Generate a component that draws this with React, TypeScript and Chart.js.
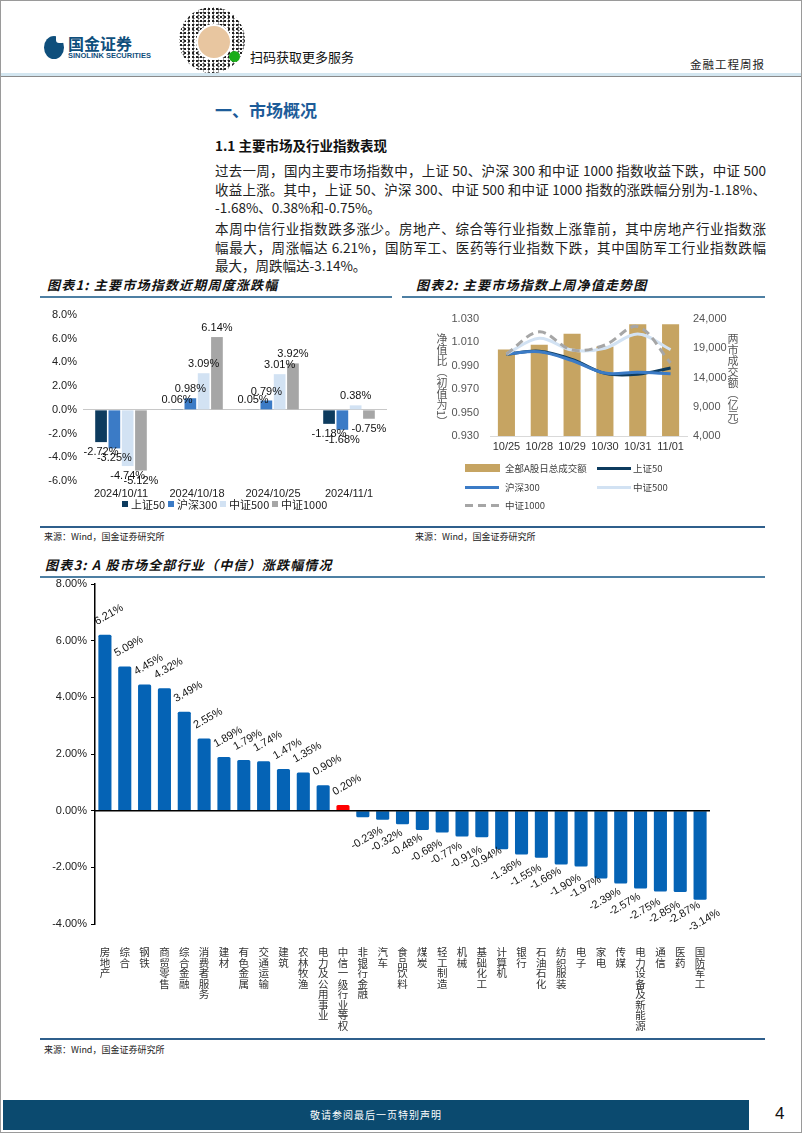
import React, { useEffect, useRef } from "react";
import { Chart, registerables } from "chart.js";

Chart.register(...registerables);

const FONT_CJK = "'Noto Sans CJK SC', 'Noto Sans', sans-serif";
const FONT_NUM = "Arial, 'Liberation Sans', 'Noto Sans CJK SC', sans-serif";
Chart.defaults.font.family = FONT_NUM;

// ---------- Chart 1: weekly returns of major indices ----------
const weekLabels = ["2024/10/11", "2024/10/18", "2024/10/25", "2024/11/1"];
const sz50Weekly = [-2.72, 0.06, 0.05, -1.18];
const hs300Weekly = [-3.25, 0.98, 0.79, -1.68];
const zz500Weekly = [-4.74, 3.09, 3.01, 0.38];
const zz1000Weekly = [-5.12, 6.14, 3.92, -0.75];
const weeklyAxis = { min: -6, max: 8, step: 2 };

// ---------- Chart 2: daily NAV and turnover ----------
const dayLabels = ["10/25", "10/28", "10/29", "10/30", "10/31", "11/01"];
const turnover = [18800, 19600, 21500, 19300, 23100, 23100];
const sz50Nav = [1.0, 1.0025, 0.9955, 0.9835, 0.9828, 0.9882];
const hs300Nav = [1.0, 1.002, 0.9945, 0.9838, 0.9845, 0.9832];
const zz500Nav = [1.0, 1.0135, 1.0035, 1.005, 1.0172, 1.0038];
const zz1000Nav = [1.0, 1.019, 1.0035, 1.0078, 1.0235, 0.9925];
const navAxis = { min: 0.93, max: 1.03, step: 0.02 };
const turnoverAxis = { min: 4000, max: 24000, step: 5000 };

// ---------- Chart 3: CITIC industries weekly returns ----------
const industries = [
  "房地产", "综合", "钢铁", "商贸零售", "综合金融", "消费者服务", "建材", "有色金属",
  "交通运输", "建筑", "农林牧渔", "电力及公用事业", "中信一级行业等权", "非银行金融", "汽车",
  "食品饮料", "煤炭", "轻工制造", "机械", "基础化工", "计算机", "银行", "石油石化",
  "纺织服装", "电子", "家电", "传媒", "电力设备及新能源", "通信", "医药", "国防军工",
];
const industryReturns = [
  6.21, 5.09, 4.45, 4.32, 3.49, 2.55, 1.89, 1.79, 1.74, 1.47, 1.35, 0.9, 0.2, -0.23, -0.32,
  -0.48, -0.68, -0.77, -0.91, -0.94, -1.36, -1.55, -1.66, -1.9, -1.97, -2.39, -2.57, -2.75,
  -2.85, -2.87, -3.14,
];
const benchmarkName = "中信一级行业等权";
const industryAxis = { min: -4, max: 8, step: 2 };

const COLORS = {
  sz50: "#0d3b5e",
  hs300: "#3b7bc6",
  zz500: "#d2e2f3",
  zz1000: "#a6a6a6",
  gold: "#c6a462",
  bar3: "#0563b5",
  bench: "#ff0000",
};

const weeklySeries = [
  { name: "上证50", data: sz50Weekly, color: COLORS.sz50 },
  { name: "沪深300", data: hs300Weekly, color: COLORS.hs300 },
  { name: "中证500", data: zz500Weekly, color: COLORS.zz500 },
  { name: "中证1000", data: zz1000Weekly, color: COLORS.zz1000 },
];

function WeeklyChart() {
  const ref = useRef<HTMLCanvasElement>(null);
  useEffect(() => {
    const labelPlugin = {
      id: "weeklyLabels",
      afterDatasetsDraw(chart: any) {
        const ctx = chart.ctx;
        ctx.save();
        ctx.font = `11px ${FONT_NUM}`;
        ctx.fillStyle = "#111";
        ctx.textAlign = "center";
        ctx.textBaseline = "middle";
        chart.data.datasets.forEach((ds: any, di: number) => {
          const meta = chart.getDatasetMeta(di);
          meta.data.forEach((el: any, i: number) => {
            const v = ds.data[i] as number;
            const y = v >= 0 ? el.y - 9 : el.y + 10;
            ctx.fillText(v.toFixed(2) + "%", el.x, y);
          });
        });
        ctx.restore();
      },
    };
    const chart = new Chart(ref.current!, {
      type: "bar",
      data: {
        labels: weekLabels,
        datasets: weeklySeries.map((s) => ({ label: s.name, data: s.data, backgroundColor: s.color })),
      },
      options: {
        animation: false,
        responsive: false,
        layout: { padding: { top: 15, right: 8 } },
        datasets: { bar: { categoryPercentage: 0.7, barPercentage: 0.88 } },
        plugins: { legend: { display: false }, tooltip: { enabled: false } },
        scales: {
          x: {
            grid: { display: false, drawTicks: false },
            border: { display: false },
            ticks: { color: "#222", font: { size: 11 }, padding: 6, maxRotation: 0, minRotation: 0, autoSkip: false },
            afterFit: (s: any) => {
              s.height = 20;
            },
          },
          y: {
            min: weeklyAxis.min,
            max: weeklyAxis.max,
            ticks: {
              stepSize: weeklyAxis.step,
              color: "#222",
              font: { size: 11 },
              padding: 6,
              callback: (v: any) => Number(v).toFixed(1) + "%",
            },
            grid: {
              drawTicks: false,
              color: (c: any) => (c.tick && c.tick.value === 0 ? "#c8c8c8" : "transparent"),
            },
            border: { display: false },
            afterFit: (s: any) => {
              s.width = 43;
            },
          },
        },
      } as any,
      plugins: [labelPlugin],
    });
    return () => chart.destroy();
  }, []);
  return (
    <canvas
      ref={ref}
      width={355}
      height={201}
      style={{ position: "absolute", left: 40, top: 300, width: 355, height: 201 }}
    />
  );
}

function Legend1() {
  const starts = [122, 168, 220, 272];
  return (
    <>
      {weeklySeries.map((s, i) => (
        <React.Fragment key={s.name}>
          <div style={{ position: "absolute", left: starts[i], top: 501, width: 6, height: 6, background: s.color }} />
          <div
            style={{
              position: "absolute",
              left: starts[i] + 9,
              top: 497,
              fontSize: 11,
              lineHeight: "14px",
              color: "#222",
              whiteSpace: "nowrap",
            }}
          >
            {s.name}
          </div>
        </React.Fragment>
      ))}
    </>
  );
}

function NavChart() {
  const ref = useRef<HTMLCanvasElement>(null);
  useEffect(() => {
    const lineBase = { type: "line", pointRadius: 0, borderWidth: 3, tension: 0.35, yAxisID: "y", fill: false };
    const chart = new Chart(ref.current!, {
      type: "bar",
      data: {
        labels: dayLabels,
        datasets: [
          {
            type: "bar",
            label: "全部A股日总成交额",
            data: turnover,
            backgroundColor: COLORS.gold,
            yAxisID: "y1",
            order: 5,
            barPercentage: 0.52,
            categoryPercentage: 1,
          },
          { ...lineBase, label: "上证50", data: sz50Nav, borderColor: COLORS.sz50, order: 4 },
          { ...lineBase, label: "沪深300", data: hs300Nav, borderColor: COLORS.hs300, order: 3 },
          { ...lineBase, label: "中证500", data: zz500Nav, borderColor: COLORS.zz500, order: 2 },
          {
            ...lineBase,
            label: "中证1000",
            data: zz1000Nav,
            borderColor: COLORS.zz1000,
            borderDash: [8, 5],
            order: 1,
          },
        ] as any,
      },
      options: {
        animation: false,
        responsive: false,
        layout: { padding: { top: 19 } },
        plugins: { legend: { display: false }, tooltip: { enabled: false } },
        scales: {
          x: {
            grid: { display: false, drawTicks: false },
            border: { display: true, color: "#d9d9d9" },
            ticks: { color: "#333", font: { size: 11 }, padding: 4, maxRotation: 0, minRotation: 0, autoSkip: false },
            afterFit: (s: any) => {
              s.height = 24;
            },
          },
          y: {
            position: "left",
            min: navAxis.min,
            max: navAxis.max,
            ticks: {
              stepSize: navAxis.step,
              color: "#555",
              font: { size: 11 },
              padding: 11,
              callback: (v: any) => Number(v).toFixed(3),
            },
            grid: { display: false, drawTicks: false },
            border: { display: false },
            afterFit: (s: any) => {
              s.width = 90;
            },
          },
          y1: {
            position: "right",
            min: turnoverAxis.min,
            max: turnoverAxis.max,
            ticks: {
              stepSize: turnoverAxis.step,
              color: "#555",
              font: { size: 11 },
              padding: 6,
              callback: (v: any) => Number(v).toLocaleString("en-US"),
            },
            grid: { display: false, drawTicks: false },
            border: { display: false },
            afterFit: (s: any) => {
              s.width = 78;
            },
          },
        },
      } as any,
    });
    return () => chart.destroy();
  }, []);
  return (
    <canvas
      ref={ref}
      width={365}
      height={160}
      style={{ position: "absolute", left: 400, top: 300, width: 365, height: 160 }}
    />
  );
}

function IndustryChart() {
  const ref = useRef<HTMLCanvasElement>(null);
  useEffect(() => {
    const labelPlugin = {
      id: "industryLabels",
      afterDatasetsDraw(chart: any) {
        const ctx = chart.ctx;
        const yScale = chart.scales.y;
        const area = chart.chartArea;
        ctx.save();
        const y0 = yScale.getPixelForValue(0);
        ctx.strokeStyle = "#000";
        ctx.lineWidth = 1.5;
        ctx.beginPath();
        ctx.moveTo(area.left, y0);
        ctx.lineTo(area.right, y0);
        ctx.stroke();
        ctx.font = `11px ${FONT_NUM}`;
        ctx.fillStyle = "#111";
        ctx.textAlign = "center";
        ctx.textBaseline = "middle";
        const meta = chart.getDatasetMeta(0);
        meta.data.forEach((el: any, i: number) => {
          const v = industryReturns[i];
          const ty = v >= 0 ? el.y - 20 : el.y + 21;
          ctx.save();
          ctx.translate(el.x + 4, ty);
          ctx.rotate((-30 * Math.PI) / 180);
          ctx.fillText(v.toFixed(2) + "%", 0, 0);
          ctx.restore();
        });
        ctx.restore();
      },
    };
    const chart = new Chart(ref.current!, {
      type: "bar",
      data: {
        labels: industries.map((s) => s.split("")),
        datasets: [
          {
            data: industryReturns,
            backgroundColor: industries.map((n) => (n === benchmarkName ? COLORS.bench : COLORS.bar3)),
            borderRadius: 1.5,
            barPercentage: 0.66,
            categoryPercentage: 1,
          },
        ],
      },
      options: {
        animation: false,
        responsive: false,
        layout: { padding: { top: 12, right: 55 } },
        plugins: { legend: { display: false }, tooltip: { enabled: false } },
        scales: {
          x: {
            grid: { display: false, drawTicks: false },
            border: { display: false },
            ticks: {
              autoSkip: false,
              maxRotation: 0,
              minRotation: 0,
              color: "#333",
              font: { size: 10.5, family: FONT_CJK, lineHeight: 1.0 },
              padding: 23,
            },
            afterFit: (s: any) => {
              s.height = 114;
            },
          },
          y: {
            min: industryAxis.min,
            max: industryAxis.max,
            ticks: {
              stepSize: industryAxis.step,
              color: "#222",
              font: { size: 11 },
              padding: 4,
              callback: (v: any) => Number(v).toFixed(2) + "%",
            },
            grid: {
              color: "transparent",
              tickColor: "#000",
              tickLength: 4,
              drawTicks: true,
            },
            border: { display: true, color: "#000", width: 1.5 },
            afterFit: (s: any) => {
              s.width = 55;
            },
          },
        },
      } as any,
      plugins: [labelPlugin],
    });
    return () => chart.destroy();
  }, []);
  return (
    <canvas
      ref={ref}
      width={725}
      height={466}
      style={{ position: "absolute", left: 40, top: 572, width: 725, height: 466 }}
    />
  );
}

const abs = (left: number, top: number, extra: React.CSSProperties = {}): React.CSSProperties => ({
  position: "absolute",
  left,
  top,
  whiteSpace: "nowrap",
  ...extra,
});

const para1 = [
  "过去一周，国内主要市场指数中，上证 50、沪深 300 和中证 1000 指数收益下跌，中证 500",
  "收益上涨。其中，上证 50、沪深 300、中证 500 和中证 1000 指数的涨跌幅分别为-1.18%、",
  "-1.68%、0.38%和-0.75%。",
];
const para2 = [
  "本周中信行业指数跌多涨少。房地产、综合等行业指数上涨靠前，其中房地产行业指数涨",
  "幅最大，周涨幅达 6.21%，国防军工、医药等行业指数下跌，其中国防军工行业指数跌幅",
  "最大，周跌幅达-3.14%。",
];

function Para({ lines, top }: { lines: string[]; top: number }) {
  return (
    <>
      {lines.map((t, i) => {
        const last = i === lines.length - 1;
        return (
          <div
            key={i}
            style={{
              position: "absolute",
              left: 215,
              top: top + i * 18.5,
              width: 551,
              fontSize: 13.5,
              lineHeight: "18px",
              color: "#222",
              whiteSpace: "nowrap",
              textAlign: last ? "left" : "justify",
              textAlignLast: last ? "left" : "justify",
            } as React.CSSProperties}
          >
            {t}
          </div>
        );
      })}
    </>
  );
}

const titleStyle: React.CSSProperties = {
  fontSize: 13,
  fontWeight: 700,
  fontStyle: "italic",
  letterSpacing: 1.2,
  color: "#111",
  lineHeight: "16px",
};
const sourceStyle: React.CSSProperties = { fontSize: 9, color: "#222", lineHeight: "12px" };
const rule = (left: number, top: number, width: number, color: string, h = 1.5): React.CSSProperties => ({
  position: "absolute",
  left,
  top,
  width,
  height: h,
  background: color,
});

function Legend2() {
  const txt: React.CSSProperties = { fontSize: 9.5, color: "#404040", lineHeight: "14px" };
  const lineSw = (left: number, top: number, color: string): React.CSSProperties => ({
    position: "absolute",
    left,
    top,
    width: 34,
    height: 3,
    background: color,
  });
  return (
    <>
      <div style={{ position: "absolute", left: 465, top: 464, width: 35, height: 8, background: COLORS.gold }} />
      <div style={abs(505, 461, txt)}>全部A股日总成交额</div>
      <div style={lineSw(597, 467, COLORS.sz50)} />
      <div style={abs(633, 461, txt)}>上证50</div>
      <div style={lineSw(465, 486, COLORS.hs300)} />
      <div style={abs(505, 480, txt)}>沪深300</div>
      <div style={lineSw(597, 486, COLORS.zz500)} />
      <div style={abs(633, 480, txt)}>中证500</div>
      <div
        style={{
          position: "absolute",
          left: 465,
          top: 504,
          width: 34,
          height: 3,
          background: `repeating-linear-gradient(90deg, ${COLORS.zz1000} 0 8px, transparent 8px 13px)`,
        }}
      />
      <div style={abs(505, 498, txt)}>中证1000</div>
    </>
  );
}

export default function App() {
  const vText: React.CSSProperties = {
    position: "absolute",
    writingMode: "vertical-rl",
    textOrientation: "mixed",
    fontSize: 11,
    color: "#555",
    lineHeight: "12px",
    letterSpacing: 0,
  } as React.CSSProperties;
  return (
    <div
      style={{
        position: "absolute",
        left: 0,
        top: 0,
        width: 802,
        height: 1133,
        background: "#fff",
        overflow: "hidden",
        fontFamily: FONT_CJK,
      }}
    >
      {/* header */}
      <div
        style={{
          position: "absolute",
          left: 44,
          top: 36,
          width: 20,
          height: 23,
          borderRadius: "50%",
          background: "#0f4f7c",
        }}
      />
      <div style={{ position: "absolute", left: 56, top: 33, width: 9, height: 10, background: "#fff", borderRadius: 3 }} />
      <div style={abs(68, 34, { fontSize: 16, fontWeight: 700, color: "#0f4f7c", lineHeight: "19px" })}>
        国金证券
      </div>
      <div
        style={abs(68, 52, {
          fontSize: 7.5,
          fontWeight: 700,
          color: "#0f4f7c",
          lineHeight: "8px",
          fontFamily: FONT_NUM,
        })}
      >
        SINOLINK SECURITIES
      </div>
      <div
        style={{
          position: "absolute",
          left: 179,
          top: 7,
          width: 66,
          height: 66,
          borderRadius: "50%",
          background:
            "radial-gradient(circle, #222 1.1px, transparent 1.5px) 0 0 / 4px 4px, radial-gradient(circle, #444 0.8px, transparent 1.2px) 2px 1px / 5px 3px",
        }}
      />
      <div
        style={{
          position: "absolute",
          left: 196,
          top: 24,
          width: 32,
          height: 32,
          borderRadius: "50%",
          background: "#e8c6a0",
          border: "2px solid #fff",
        }}
      />
      <div style={{ position: "absolute", left: 229, top: 51, width: 11, height: 11, borderRadius: "50%", background: "#1aad19" }} />
      <div style={abs(250, 49, { fontSize: 13, color: "#111", lineHeight: "16px" })}>扫码获取更多服务</div>
      <div style={abs(690, 57, { fontSize: 11.5, color: "#222", lineHeight: "14px", letterSpacing: 1 })}>金融工程周报</div>
      <div style={rule(1, 73, 800, "#d3e6f0", 3)} />
      <div style={rule(1, 76, 800, "#8a8a8a", 1)} />

      {/* body text */}
      <div style={abs(215, 99, { fontSize: 17, fontWeight: 700, color: "#1d5c99", lineHeight: "22px" })}>一、市场概况</div>
      <div style={abs(215, 136, { fontSize: 13.5, fontWeight: 700, color: "#111", lineHeight: "18px" })}>
        1.1 主要市场及行业指数表现
      </div>
      <Para lines={para1} top={161} />
      <Para lines={para2} top={219} />

      {/* chart 1 & 2 titles */}
      <div style={abs(47, 277, titleStyle)}>图表1: 主要市场指数近期周度涨跌幅</div>
      <div style={abs(416, 277, titleStyle)}>图表2: 主要市场指数上周净值走势图</div>
      <div style={rule(40, 296, 352, "#4d7fa3")} />
      <div style={rule(402, 296, 363, "#4d7fa3")} />

      <WeeklyChart />
      <Legend1 />
      <NavChart />
      <div style={{ ...vText, left: 436, top: 333 }}>净值比（初值为1）</div>
      <div style={{ ...vText, left: 727, top: 333 }}>两市成交额（亿元）</div>
      <Legend2 />

      <div style={rule(40, 526, 725, "#2f5f8c")} />
      <div style={abs(44, 531, sourceStyle)}>来源：Wind，国金证券研究所</div>
      <div style={abs(415, 531, sourceStyle)}>来源：Wind，国金证券研究所</div>

      {/* chart 3 */}
      <div style={abs(45, 557, titleStyle)}>图表3: A 股市场全部行业（中信）涨跌幅情况</div>
      <div style={rule(40, 576, 725, "#4d7fa3")} />
      <IndustryChart />
      <div style={rule(40, 1038, 725, "#2f5f8c")} />
      <div style={abs(44, 1044, sourceStyle)}>来源：Wind，国金证券研究所</div>

      {/* footer */}
      <div
        style={{
          position: "absolute",
          left: 3,
          top: 1100,
          width: 746,
          height: 30,
          background: "#0b4a6f",
          color: "#fff",
          fontSize: 10,
          lineHeight: "30px",
          textAlign: "center",
          letterSpacing: 1,
        }}
      >
        敬请参阅最后一页特别声明
      </div>
      <div style={abs(775, 1104, { fontSize: 17, color: "#111", lineHeight: "20px", fontFamily: FONT_NUM })}>4</div>

      {/* page frame */}
      <div
        style={{
          position: "absolute",
          left: 0,
          top: 0,
          width: 802,
          height: 1133,
          boxSizing: "border-box",
          border: "1px solid #9a9a9a",
          pointerEvents: "none",
        }}
      />
    </div>
  );
}
